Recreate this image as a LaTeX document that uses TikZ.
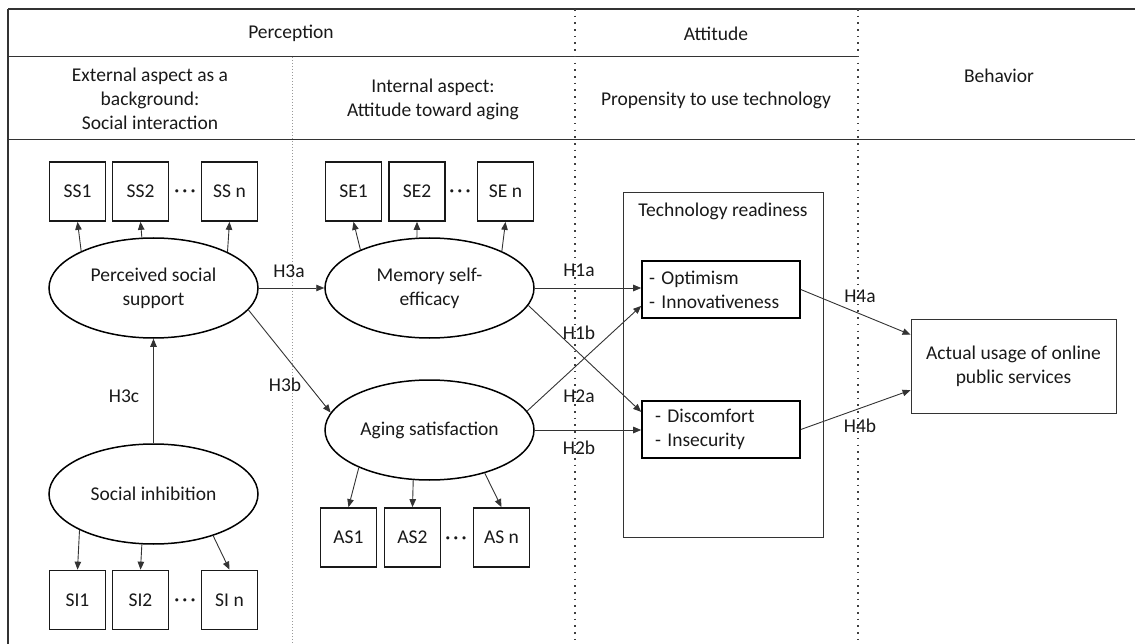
\documentclass[tikz,border=0pt]{standalone}
\usepackage{fontspec}
\setmainfont{Carlito}
\usetikzlibrary{shapes.geometric,arrows.meta,calc}
\begin{document}
\begin{tikzpicture}[x=1pt,y=-1pt,
  every node/.style={text=black!90, font=\fontsize{19.5}{24}\selectfont},
  ind/.style={draw=black!90, line width=1.7pt, minimum width=56pt, minimum height=59pt, inner sep=0pt},
  lat/.style={ellipse, draw=black, line width=1.5pt, minimum width=209pt, minimum height=100pt, inner sep=0pt, align=center},
  arr/.style={draw=black!80, line width=0.9pt, -{Triangle[length=8pt,width=6.5pt]}},
  hyp/.style={inner sep=1pt},
  frame/.style={draw=black!80, line width=1pt},
  heavydots/.style={draw=black!75, line width=1.6pt, dash pattern=on 1.6pt off 5.1pt},
  lightdots/.style={draw=black!40, line width=0.9pt, dash pattern=on 1pt off 2pt},
  tbox/.style={draw=black, line width=1.6pt, minimum width=158pt, minimum height=57pt, align=left},
  plainbox/.style={draw=black!80, line width=0.9pt, inner sep=0pt},
  ellip/.style={anchor=base, inner sep=0pt, font=\fontsize{22}{24}\selectfont}
]
\useasboundingbox (0,0) rectangle (1135,644);

% frame and header grid
\draw[frame, line width=1.4pt] (8,9) -- (1135,9);
\draw[frame] (8,57) -- (858,57);
\draw[frame] (8,140) -- (1135,140);
\draw[frame, line width=1.4pt] (8,9) -- (8,644);
\draw[lightdots] (292,57) -- (292,644);
\draw[heavydots] (575,9) -- (575,644);
\draw[heavydots] (858,9) -- (858,644);

% header texts
\node (hperc) at (291,33) {Perception};
\node (hatt) at (716,34) {Attitude};
\node[align=center] (hext) at (150,99) {External aspect as a\\background:\\Social interaction};
\node[align=center] (hint) at (433,99) {Internal aspect:\\Attitude toward aging};
\node (hprop) at (716,100) {Propensity to use technology};
\node (hbeh) at (999,76) {Behavior};

% technology readiness container
\node[plainbox, minimum width=200pt, minimum height=345pt] (tech) at (723,364.5) {};
\node (techlbl) at (723,211) {Technology readiness};

% indicator boxes
\node[ind] (ss1) at (77.5,191.5) {SS1};
\node[ind] (ss2) at (140.5,191.5) {SS2};
\node[ellip] (ssdots) at (185,198) {·\hspace{2.5pt}·\hspace{2.5pt}·};
\node[ind] (ssn) at (229.5,191.5) {SS n};

\node[ind] (se1) at (353.5,191.5) {SE1};
\node[ind] (se2) at (417,191.5) {SE2};
\node[ellip] (sedots) at (460,198) {·\hspace{2.5pt}·\hspace{2.5pt}·};
\node[ind] (sen) at (505.5,191.5) {SE n};

\node[ind] (as1) at (348.5,537.5) {AS1};
\node[ind] (as2) at (412.5,537.5) {AS2};
\node[ellip] (asdots) at (456,544) {·\hspace{2.5pt}·\hspace{2.5pt}·};
\node[ind] (asn) at (501.5,537.5) {AS n};

\node[ind] (si1) at (77.5,600) {SI1};
\node[ind] (si2) at (140.5,600) {SI2};
\node[ellip] (sidots) at (185,606.5) {·\hspace{2.5pt}·\hspace{2.5pt}·};
\node[ind] (sin) at (229.5,600) {SI n};

% latent constructs
\node[lat] (pss) at (153.5,288) {Perceived social\\support};
\node[lat] (mem) at (429.5,288) {Memory self-\\efficacy};
\node[lat] (ags) at (429.5,430) {Aging satisfaction};
\node[lat] (sih) at (153.5,494) {Social inhibition};

% technology readiness dimensions
\node[tbox, text width=144pt, inner xsep=7pt] (opt) at (721,289.5) {- Optimism\\- Innovativeness};
\node[tbox, text width=132pt, inner xsep=13pt] (dis) at (721,429.5) {- Discomfort\\- Insecurity};

% outcome
\node[plainbox, minimum width=205pt, minimum height=94pt, align=center] (act) at (1013.5,366) {Actual usage of online\\public services};

% measurement arrows
\draw[arr] (pss.153) -- (ss1.south);
\draw[arr] (pss.103) -- (ss2.south);
\draw[arr] (pss.26) -- (ssn.south);
\draw[arr] (mem.151) -- (se1.south);
\draw[arr] (mem.104) -- (se2.south);
\draw[arr] (mem.27) -- (sen.south);
\draw[arr] (ags.208) -- (as1.north);
\draw[arr] (ags.252) -- (as2.north);
\draw[arr] (ags.322) -- (asn.north);
\draw[arr] (sih.206) -- (si1.north);
\draw[arr] (sih.257) -- (si2.north);
\draw[arr] (sih.325) -- (sin.north);

% structural paths
\draw[arr] (pss.east) -- (mem.west);
\draw[arr] (pss.347) -- (ags.170);
\draw[arr] (sih.north) -- (pss.south);
\draw[arr] (mem.east) -- (mem.east -| opt.west);
\draw[arr] (mem.350) -- ($(dis.north west)!0.2!(dis.south west)$);
\draw[arr] (ags.11) -- ($(opt.north west)!0.78!(opt.south west)$);
\draw[arr] (ags.east) -- (ags.east -| dis.west);
\draw[arr] (opt.east) -- ($(act.north west)!0.17!(act.south west)$);
\draw[arr] (dis.east) -- ($(act.north west)!0.755!(act.south west)$);

% hypothesis labels
\node[hyp] (h3a) at (289,271) {H3a};
\node[hyp] (h3b) at (285,385) {H3b};
\node[hyp] (h3c) at (124,396) {H3c};
\node[hyp] (h1a) at (579,270) {H1a};
\node[hyp] (h1b) at (579,333) {H1b};
\node[hyp] (h2a) at (579,396) {H2a};
\node[hyp] (h2b) at (579,448) {H2b};
\node[hyp] (h4a) at (860,296) {H4a};
\node[hyp] (h4b) at (860,426) {H4b};
\end{tikzpicture}
\end{document}
